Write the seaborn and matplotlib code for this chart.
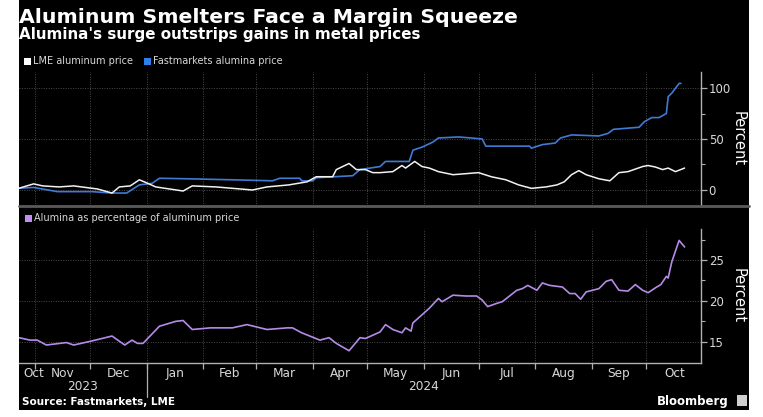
import numpy as np
import pandas as pd
import matplotlib
matplotlib.use("Agg")
import matplotlib.pyplot as plt
import matplotlib.dates as mdates
import matplotlib.transforms as mtransforms
from matplotlib.patches import Rectangle
from matplotlib.lines import Line2D
from matplotlib.ticker import FixedLocator, NullFormatter
import seaborn as sns

# ---------------- data ----------------
lme_dates = ["2023-10-23", "2023-10-31", "2023-11-05", "2023-11-14", "2023-11-22", "2023-12-05",
             "2023-12-13", "2023-12-17", "2023-12-23", "2023-12-28", "2024-01-01", "2024-01-06",
             "2024-01-21", "2024-01-26", "2024-02-08", "2024-02-28", "2024-03-07", "2024-03-19",
             "2024-03-29", "2024-04-03", "2024-04-12", "2024-04-14", "2024-04-21", "2024-04-25",
             "2024-04-30", "2024-05-04", "2024-05-08", "2024-05-15", "2024-05-20", "2024-05-22",
             "2024-05-27", "2024-05-31", "2024-06-04", "2024-06-09", "2024-06-17", "2024-06-24",
             "2024-07-01", "2024-07-08", "2024-07-16", "2024-07-23", "2024-07-30", "2024-08-07",
             "2024-08-13", "2024-08-17", "2024-08-21", "2024-08-25", "2024-08-29", "2024-09-05",
             "2024-09-11", "2024-09-16", "2024-09-21", "2024-09-29", "2024-10-02", "2024-10-06",
             "2024-10-10", "2024-10-13", "2024-10-17", "2024-10-22"]
lme_values = [1.7, 6, 4, 3, 4, 1, -3, 3, 4, 10, 7, 3,
              -1, 4, 3, 0, 3, 5, 8, 13, 13, 20, 26, 20,
              20, 17, 17, 18, 24, 21.5, 28, 23, 21.5, 18, 15, 16,
              17, 13, 10, 5, 1.6, 3, 5, 8, 15, 19, 15, 11,
              9, 17, 18, 23, 24, 22.5, 20, 21.5, 18, 21.5]

alumina_dates = ["2023-10-23", "2023-10-31", "2023-11-13", "2023-12-02", "2023-12-13", "2023-12-21",
                 "2023-12-28", "2024-01-04", "2024-01-08", "2024-01-23", "2024-02-17", "2024-03-10",
                 "2024-03-14", "2024-03-25", "2024-03-26", "2024-04-01", "2024-04-03", "2024-04-23",
                 "2024-04-27", "2024-05-08", "2024-05-11", "2024-05-24", "2024-05-26", "2024-05-31",
                 "2024-06-06", "2024-06-09", "2024-06-20", "2024-06-27", "2024-07-03", "2024-07-05",
                 "2024-07-29", "2024-07-30", "2024-08-05", "2024-08-12", "2024-08-15", "2024-08-21",
                 "2024-09-05", "2024-09-10", "2024-09-13", "2024-09-27", "2024-09-30", "2024-10-04",
                 "2024-10-08", "2024-10-12", "2024-10-13", "2024-10-15", "2024-10-19", "2024-10-20"]
alumina_values = [1.7, 2.5, -1.6, -1.6, -3, -3,
                  5, 6.5, 11.5, 11, 10, 9,
                  11.5, 11.5, 9, 9, 12, 14,
                  20, 23, 28, 28, 39, 42,
                  47, 51, 52, 51, 50, 43,
                  43, 41, 44.5, 46, 51, 54,
                  53, 55.5, 59.5, 61.5, 67, 71,
                  71, 75, 91.5, 95, 104.5, 104.5]

ratio_dates = ["2023-10-23", "2023-10-29", "2023-11-02", "2023-11-07", "2023-11-18", "2023-11-22",
               "2023-12-02", "2023-12-13", "2023-12-20", "2023-12-24", "2023-12-27", "2023-12-30",
               "2024-01-08", "2024-01-17", "2024-01-21", "2024-01-26", "2024-02-05", "2024-02-17",
               "2024-02-25", "2024-03-07", "2024-03-18", "2024-03-21", "2024-03-26", "2024-04-05",
               "2024-04-10", "2024-04-14", "2024-04-21", "2024-04-27", "2024-04-30", "2024-05-08",
               "2024-05-11", "2024-05-15", "2024-05-20", "2024-05-22", "2024-05-25", "2024-05-26",
               "2024-05-31", "2024-06-04", "2024-06-09", "2024-06-11", "2024-06-17", "2024-06-24",
               "2024-06-30", "2024-07-03", "2024-07-06", "2024-07-11", "2024-07-14", "2024-07-22",
               "2024-07-25", "2024-07-28", "2024-08-02", "2024-08-05", "2024-08-09", "2024-08-16",
               "2024-08-20", "2024-08-23", "2024-08-26", "2024-08-29", "2024-09-05", "2024-09-09",
               "2024-09-12", "2024-09-16", "2024-09-21", "2024-09-25", "2024-09-29", "2024-10-02",
               "2024-10-06", "2024-10-09", "2024-10-12", "2024-10-13", "2024-10-15", "2024-10-19",
               "2024-10-22"]
ratio_values = [15.5, 15.2, 15.2, 14.6, 14.9, 14.6,
                15.1, 15.7, 14.6, 15.2, 14.8, 14.8,
                16.9, 17.5, 17.6, 16.5, 16.7, 16.7,
                17.1, 16.5, 16.7, 16.7, 16.1, 15.2,
                15.5, 14.8, 13.9, 15.5, 15.4, 16.2,
                17.1, 16.5, 16.1, 16.7, 16.3, 17.3,
                18.3, 19.1, 20.3, 19.9, 20.7, 20.6,
                20.6, 20.1, 19.3, 19.7, 19.9, 21.3,
                21.5, 21.9, 21.3, 22.2, 21.9, 21.7,
                20.9, 20.9, 20.2, 21.1, 21.5, 22.4,
                22.6, 21.3, 21.2, 22.0, 21.3, 21.0,
                21.6, 22.0, 23.0, 22.8, 24.8, 27.4,
                26.6]

month_labels = ["Oct", "Nov", "Dec", "Jan", "Feb", "Mar", "Apr", "May", "Jun", "Jul", "Aug", "Sep", "Oct"]
year_labels = ["2023", "2024"]
top_yticks = [0, 50, 100]
bottom_yticks = [15, 20, 25]

title = "Aluminum Smelters Face a Margin Squeeze"
subtitle = "Alumina's surge outstrips gains in metal prices"
legend_top = ["LME aluminum price", "Fastmarkets alumina price"]
legend_bottom = "Alumina as percentage of aluminum price"
source = "Source: Fastmarkets, LME"

# ---------------- style ----------------
sns.set_theme(style="dark")
plt.rcParams["font.family"] = ["DejaVu Sans"]

W, H = 763, 417
fig = plt.figure(figsize=(W / 100, H / 100), dpi=100)
fig.patch.set_facecolor("white")


def fx(px):
    return px / W


def fy(py):
    return 1 - py / H


# black card (behind everything)
fig.patches.append(Rectangle((fx(19), fy(410)), fx(749) - fx(19), fy(0) - fy(410),
                             transform=fig.transFigure, facecolor="black", edgecolor="none", zorder=-10))

C_WHITE = "#f2f2f2"
C_BLUE = "#3f7bd6"
C_PURPLE = "#b58be8"
C_GRID = "#4a4a4a"
C_AXIS = "#b0b0b0"
C_TICK = "#d8d8d8"

ax1 = fig.add_axes([fx(19), fy(206), fx(701) - fx(19), fy(72) - fy(206)])
ax2 = fig.add_axes([fx(19), fy(363), fx(701) - fx(19), fy(229) - fy(363)])

df_lme = pd.DataFrame({"date": pd.to_datetime(lme_dates), "value": lme_values})
df_alu = pd.DataFrame({"date": pd.to_datetime(alumina_dates), "value": alumina_values})
df_rat = pd.DataFrame({"date": pd.to_datetime(ratio_dates), "value": ratio_values})

sns.lineplot(data=df_alu, x="date", y="value", ax=ax1, color=C_BLUE, linewidth=1.2, estimator=None)
sns.lineplot(data=df_lme, x="date", y="value", ax=ax1, color=C_WHITE, linewidth=1.1, estimator=None)
sns.lineplot(data=df_rat, x="date", y="value", ax=ax2, color=C_PURPLE, linewidth=1.2, estimator=None)

xmin = pd.Timestamp("2023-10-23")
xmax = pd.Timestamp("2024-10-31")
month_starts = pd.date_range("2023-11-01", "2024-10-01", freq="MS")
label_pos = [pd.Timestamp("2023-10-31")]
for s in month_starts:
    e = s + pd.offsets.MonthBegin(1)
    label_pos.append(s + (e - s) / 2)

for ax, (lo, hi), yt, minors in [
    (ax1, (-15.7, 115.7), top_yticks, [25, 75]),
    (ax2, (12.4, 28.8), bottom_yticks, [17.5, 22.5, 27.5]),
]:
    ax.set_facecolor("black")
    ax.set_xlim(xmin, xmax)
    ax.set_ylim(lo, hi)
    ax.set_xlabel("")
    ax.set_ylabel("")
    ax.yaxis.tick_right()
    ax.set_yticks(yt)
    ax.set_yticklabels([str(v) for v in yt])
    ax.yaxis.set_minor_locator(FixedLocator(minors))
    ax.tick_params(axis="y", which="major", direction="out", length=4, width=0.9,
                   color=C_AXIS, labelcolor=C_TICK, labelsize=8.5, pad=1.5,
                   right=True, left=False, labelright=True, labelleft=False)
    ax.tick_params(axis="y", which="minor", direction="out", length=3, width=0.8,
                   color=C_AXIS, right=True, left=False)
    ax.xaxis.set_major_locator(FixedLocator(mdates.date2num(month_starts)))
    ax.xaxis.set_major_formatter(NullFormatter())
    ax.grid(True, which="major", axis="both", color=C_GRID, linestyle=(0, (1, 1.5)), linewidth=0.7)
    for side in ["left", "top", "bottom"]:
        ax.spines[side].set_visible(False)
    ax.spines["right"].set_visible(True)
    ax.spines["right"].set_color(C_AXIS)
    ax.spines["right"].set_linewidth(1.0)

ax1.tick_params(axis="x", which="both", length=0, bottom=False, labelbottom=False)

ax2.spines["bottom"].set_visible(True)
ax2.spines["bottom"].set_color(C_AXIS)
ax2.spines["bottom"].set_linewidth(1.0)
ax2.tick_params(axis="x", which="major", direction="out", length=4, width=0.9, color=C_AXIS, bottom=True)
ax2.xaxis.set_minor_locator(FixedLocator(mdates.date2num(label_pos)))
ax2.set_xticklabels(month_labels, minor=True)
ax2.tick_params(axis="x", which="minor", length=0, labelsize=8.7, labelcolor=C_TICK, pad=3)

# year separator tick and year labels
trans = mtransforms.blended_transform_factory(ax2.transData, ax2.transAxes)
jan1 = mdates.date2num(pd.Timestamp("2024-01-01"))
ax2.add_line(Line2D([jan1, jan1], [0, -(397 - 363) / 134], transform=trans, color=C_AXIS,
                    linewidth=0.9, clip_on=False))
x0n, x1n = mdates.date2num(xmin), mdates.date2num(xmax)
ax2.text((x0n + jan1) / 2, -(387 - 363) / 134, year_labels[0], transform=trans, ha="center", va="center",
         fontsize=8.7, color=C_TICK)
ax2.text((jan1 + x1n) / 2, -(387 - 363) / 134, year_labels[1], transform=trans, ha="center", va="center",
         fontsize=8.7, color=C_TICK)

# separator between panels
fig.lines.append(Line2D([fx(19), fx(749)], [fy(206), fy(206)], transform=fig.transFigure,
                        color="#5a5a5a", linewidth=2.0, zorder=5))

# Percent labels
fig.text(fx(738), fy(139), "Percent", rotation=270, ha="center", va="center", fontsize=10.5, color="white")
fig.text(fx(738), fy(296), "Percent", rotation=270, ha="center", va="center", fontsize=10.5, color="white")

# titles
fig.text(fx(19), fy(23), title, ha="left", va="baseline", fontsize=14.7, fontweight="bold", color="white")
fig.text(fx(19), fy(39), subtitle, ha="left", va="baseline", fontsize=10.9, fontweight="bold", color="white")


# legends
def legend_item(x_sq, y_c, color, label):
    fig.patches.append(Rectangle((fx(x_sq), fy(y_c + 3.5)), fx(7), 7 / H, transform=fig.transFigure,
                                 facecolor=color, edgecolor="none", zorder=6))
    fig.text(fx(x_sq + 9), fy(y_c), label, ha="left", va="center", fontsize=7, color=C_TICK)


legend_item(24, 61, "white", legend_top[0])
legend_item(144, 61, "#2f7fe8", legend_top[1])
legend_item(25, 218.5, "#c28ef5", legend_bottom)

# footer
fig.text(fx(22), fy(402), source, ha="left", va="center", fontsize=7.5, fontweight="bold", color="white")
fig.text(fx(729), fy(401), "Bloomberg", ha="right", va="center", fontsize=8.5, fontweight="bold", color="white")
fig.patches.append(Rectangle((fx(737), fy(406)), fx(10), 11 / H, transform=fig.transFigure,
                             facecolor="#cfcfcf", edgecolor="none", zorder=6))

fig.savefig("out.png", dpi=100, facecolor=fig.get_facecolor())
